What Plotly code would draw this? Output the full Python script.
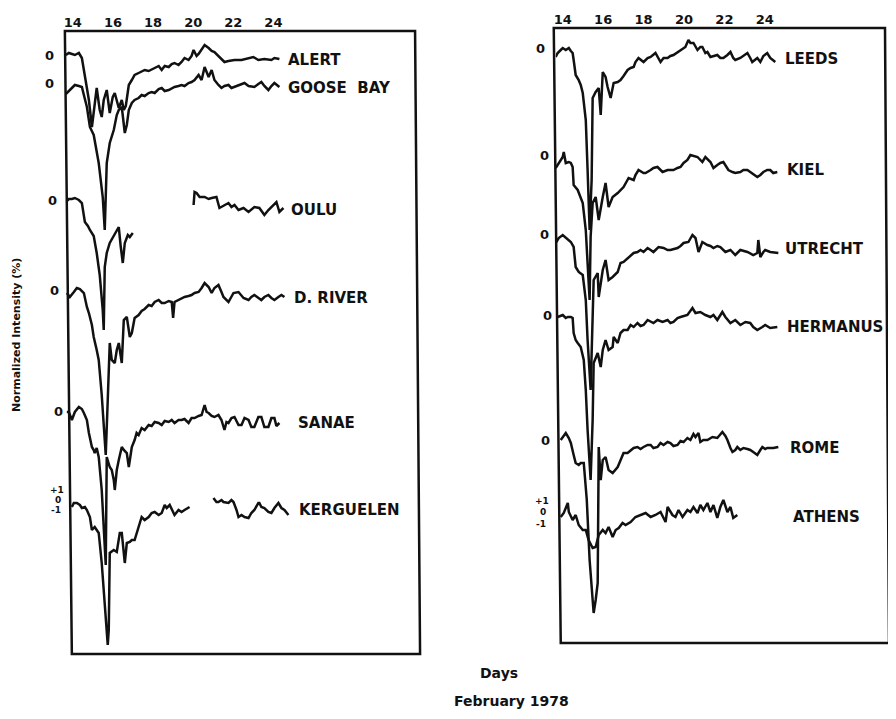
import plotly.graph_objects as go

# ---------------- data: (day of February 1978, normalized intensity %) ----------------
# left panel stations
alert = [(13.65, 0.0), (13.80, 0.2), (14.10, 0.0), (14.30, 0.2), (14.45, -0.3), (14.60, -2.2), (14.80, -4.5),
         (14.95, -7.2), (15.09, -4.5), (15.19, -3.3), (15.34, -5.5), (15.44, -6.2), (15.54, -4.5), (15.69, -3.5),
         (15.84, -5.8), (15.99, -4.2), (16.09, -3.8), (16.29, -5.3), (16.44, -4.5), (16.54, -5.5), (16.64, -5.1),
         (16.79, -3.0), (16.94, -2.5), (17.08, -2.0), (17.28, -1.8), (17.58, -1.5), (17.78, -1.6), (18.08, -1.3),
         (18.28, -1.1), (18.43, -1.5), (18.58, -1.1), (18.78, -1.2), (18.93, -0.9), (19.07, -0.8), (19.27, -1.0),
         (19.42, -0.7), (19.57, -0.3), (19.77, -0.5), (19.92, -0.1), (20.02, 0.5), (20.17, -0.1), (20.27, 0.1),
         (20.42, 0.5), (20.57, 1.0), (20.77, 0.7), (20.92, 0.4), (21.06, 0.3), (21.26, -0.1), (21.41, -0.5),
         (21.56, -0.7), (21.76, -0.6), (22.06, -0.5), (22.41, -0.5), (22.76, -0.3), (23.00, -0.2), (23.25, -0.5),
         (23.55, -0.4), (23.90, -0.5), (24.05, -0.3), (24.30, -0.4)]

goose_bay = [(13.65, -1.1), (13.85, -0.7), (14.10, -0.2), (14.30, -0.3), (14.45, -0.4), (14.70, -2.4), (14.85, -4.4),
             (15.04, -5.2), (15.29, -8.0), (15.49, -11.4), (15.59, -14.7), (15.69, -8.0), (15.84, -6.0), (16.04, -4.7),
             (16.19, -3.2), (16.29, -2.7), (16.44, -2.4), (16.59, -5.0), (16.69, -4.2), (16.79, -2.7), (16.94, -2.0),
             (17.08, -1.7), (17.28, -1.5), (17.43, -1.2), (17.58, -1.3), (17.78, -1.0), (17.93, -0.9), (18.08, -1.0),
             (18.28, -0.6), (18.43, -0.5), (18.58, -0.8), (18.78, -0.7), (18.93, -0.5), (19.07, -0.4), (19.27, -0.3),
             (19.42, -0.2), (19.57, -0.3), (19.77, 0.0), (19.92, 0.1), (20.07, 0.3), (20.27, 0.8), (20.42, 0.3),
             (20.57, 1.6), (20.77, 0.6), (20.92, 1.3), (21.06, 0.3), (21.26, -0.2), (21.41, -0.5), (21.56, -0.3),
             (21.76, -0.2), (21.91, -0.5), (22.06, -0.4), (22.26, -0.2), (22.56, 0.0), (22.76, -0.3), (23.05, -0.4),
             (23.25, -0.1), (23.40, 0.1), (23.55, -0.3), (23.75, -0.7), (23.90, -0.3), (24.05, 0.0), (24.30, -0.4)]

oulu = [(13.65, -0.2), (13.80, 0.1), (13.95, 0.1), (14.10, 0.2), (14.30, 0.0), (14.45, -0.3), (14.60, -2.2),
        (14.75, -2.6), (14.85, -3.0), (15.04, -3.6), (15.19, -5.3), (15.34, -7.5), (15.49, -11.0), (15.54, -13.0),
        (15.59, -6.7), (15.69, -5.3), (15.84, -4.3), (15.99, -3.8), (16.09, -3.5), (16.29, -2.7), (16.39, -4.7),
        (16.49, -6.3), (16.59, -4.3), (16.74, -3.5), (16.84, -3.7), (16.99, -3.3), (17.50, None),
        (20.02, -0.5), (20.07, 0.8), (20.17, 0.7), (20.32, 0.3), (20.57, 0.3), (20.77, 0.1), (20.92, 0.2),
        (21.16, 0.3), (21.31, -0.8), (21.56, -0.5), (21.76, -0.3), (21.91, -0.7), (22.06, -0.5), (22.26, -1.0),
        (22.51, -0.8), (22.76, -1.2), (23.05, -0.7), (23.30, -0.8), (23.55, -1.5), (23.75, -1.0), (23.90, -0.7),
        (24.15, -0.2), (24.30, -1.2), (24.50, -0.8)]

deep_river = [(13.70, -0.3), (13.85, -0.7), (14.05, -0.2), (14.20, 0.2), (14.35, 0.1), (14.55, -0.3), (14.70, -1.7),
              (14.80, -2.3), (14.95, -3.5), (15.04, -4.7), (15.19, -6.0), (15.29, -7.0), (15.44, -10.5),
              (15.54, -14.0), (15.64, -16.5), (15.74, -11.0), (15.84, -5.3), (15.94, -7.0), (16.09, -7.3),
              (16.19, -6.0), (16.29, -5.3), (16.44, -7.3), (16.54, -3.0), (16.69, -2.7), (16.84, -4.7), (16.94, -4.3),
              (17.08, -2.8), (17.28, -2.5), (17.43, -2.1), (17.58, -1.9), (17.78, -1.5), (17.93, -1.6), (18.08, -1.2),
              (18.28, -1.0), (18.43, -1.3), (18.58, -1.3), (18.78, -1.1), (18.93, -1.2), (19.00, -2.8), (19.07, -1.2),
              (19.27, -1.0), (19.42, -0.9), (19.57, -0.7), (19.77, -0.6), (19.92, -0.5), (20.07, -0.3), (20.27, -0.2),
              (20.42, 0.2), (20.57, 0.7), (20.77, 0.3), (20.92, -0.3), (21.06, 0.2), (21.26, 0.5), (21.41, -0.2),
              (21.51, -0.7), (21.76, -1.2), (21.91, -0.6), (22.01, -0.3), (22.26, -0.2), (22.41, -0.6), (22.51, -0.8),
              (22.76, -1.0), (22.90, -0.7), (23.05, -0.5), (23.25, -0.8), (23.40, -1.0), (23.55, -0.7), (23.75, -0.5),
              (23.90, -0.8), (24.05, -1.0), (24.25, -0.7), (24.40, -0.5), (24.55, -0.7)]

sanae = [(13.70, -0.1), (13.80, -0.1), (13.95, -0.9), (14.10, -0.1), (14.30, 0.4), (14.45, 0.2), (14.55, -0.2),
         (14.70, -0.9), (14.80, -2.2), (14.95, -3.6), (15.04, -3.9), (15.09, -4.2), (15.19, -3.7), (15.29, -4.6),
         (15.44, -7.9), (15.54, -11.9), (15.64, -15.4), (15.69, -4.6), (15.84, -5.6), (15.94, -5.9), (16.04, -6.9),
         (16.09, -7.9), (16.19, -5.9), (16.29, -4.9), (16.44, -3.6), (16.54, -3.9), (16.69, -4.2), (16.79, -5.6),
         (16.94, -3.6), (17.08, -2.9), (17.18, -2.2), (17.28, -2.4), (17.43, -1.7), (17.58, -1.9), (17.78, -1.4),
         (17.93, -1.5), (18.08, -1.1), (18.28, -1.2), (18.43, -1.4), (18.58, -1.0), (18.78, -1.1), (18.93, -0.9),
         (19.07, -1.2), (19.27, -0.9), (19.42, -0.9), (19.57, -0.8), (19.77, -1.2), (19.92, -0.7), (20.07, -0.7),
         (20.27, -0.5), (20.42, -0.4), (20.57, 0.6), (20.67, -0.1), (20.77, -0.2), (20.92, -0.5), (21.06, -0.6),
         (21.26, -0.4), (21.41, -0.9), (21.56, -1.9), (21.66, -1.1), (21.76, -1.2), (21.91, -0.7), (22.06, -0.6),
         (22.26, -1.4), (22.41, -1.4), (22.56, -0.7), (22.76, -0.9), (22.90, -1.6), (23.05, -1.6), (23.25, -0.6),
         (23.40, -0.6), (23.55, -1.6), (23.75, -1.6), (23.90, -0.7), (24.05, -0.7), (24.15, -1.5), (24.30, -1.2)]

kerguelen = [(13.95, -0.7), (14.05, -0.3), (14.20, -0.3), (14.35, -0.5), (14.45, -0.8), (14.60, -0.7), (14.70, -1.0),
             (14.85, -1.7), (14.95, -3.0), (15.09, -2.7), (15.19, -3.0), (15.29, -3.3), (15.44, -6.3), (15.54, -9.0),
             (15.59, -11.3), (15.69, -14.0), (15.74, -14.5), (15.79, -13.0), (15.84, -5.3), (16.04, -5.0),
             (16.19, -5.2), (16.34, -3.3), (16.44, -3.3), (16.59, -6.3), (16.69, -4.3), (16.84, -4.2), (16.94, -4.0),
             (17.08, -4.0), (17.28, -2.7), (17.43, -1.7), (17.58, -2.0), (17.78, -1.7), (17.93, -1.3), (18.08, -1.2),
             (18.28, -1.5), (18.43, -1.3), (18.58, -0.5), (18.68, -0.8), (18.83, -0.5), (18.93, -1.0), (19.07, -1.5),
             (19.27, -1.0), (19.42, -1.2), (19.57, -1.0), (19.72, -0.8), (19.82, -0.7), (20.50, None),
             (21.01, 0.2), (21.16, -0.2), (21.26, -0.2), (21.41, 0.0), (21.51, -0.2), (21.76, -0.3), (21.91, 0.0),
             (22.01, -0.2), (22.16, -1.0), (22.26, -1.7), (22.41, -1.5), (22.56, -1.7), (22.76, -1.8), (22.90, -1.3),
             (23.05, -1.0), (23.25, -0.3), (23.30, -0.3), (23.40, -0.7), (23.55, -0.8), (23.75, -1.2), (23.90, -1.3),
             (24.05, -0.8), (24.25, -0.3), (24.40, -0.8), (24.55, -1.0), (24.65, -1.3), (24.75, -1.5)]

# right panel stations
leeds = [(13.65, -0.9), (13.75, -0.5), (13.90, -0.2), (14.00, 0.0), (14.15, -0.2), (14.30, 0.0), (14.40, -0.3),
         (14.49, -0.5), (14.54, -1.2), (14.64, -2.7), (14.79, -3.2), (14.89, -3.7), (14.99, -4.5), (15.14, -7.2),
         (15.23, -12.2), (15.33, -18.2), (15.43, -13.2), (15.48, -5.0), (15.63, -4.4), (15.78, -4.0), (15.88, -6.7),
         (15.98, -2.4), (16.12, -2.9), (16.22, -3.9), (16.37, -5.0), (16.52, -3.5), (16.72, -3.4), (16.86, -3.2),
         (17.01, -2.8), (17.21, -2.2), (17.36, -2.0), (17.51, -1.9), (17.60, -1.4), (17.75, -1.0), (18.00, -1.4),
         (18.20, -1.0), (18.35, -0.9), (18.59, -0.5), (18.84, -1.4), (18.99, -1.0), (19.19, -1.0), (19.33, -0.8),
         (19.48, -0.7), (19.68, -0.4), (19.83, -0.2), (20.07, 0.1), (20.22, 0.8), (20.32, 0.5), (20.47, 0.5),
         (20.67, -0.2), (20.81, 0.1), (20.91, 0.1), (21.06, -0.5), (21.16, -0.4), (21.31, -0.9), (21.46, -0.8),
         (21.65, -0.7), (21.80, -1.0), (21.95, -1.0), (22.15, -0.7), (22.30, -0.4), (22.44, -1.0), (22.54, -1.2),
         (22.79, -1.0), (22.94, -0.8), (23.14, -0.5), (23.28, -1.0), (23.38, -1.4), (23.63, -1.0), (23.78, -1.4),
         (23.93, -0.8), (24.12, -0.5), (24.27, -1.0), (24.37, -1.2), (24.52, -1.4)]

kiel = [(13.65, -1.3), (13.80, -0.8), (14.00, -0.2), (14.05, 0.3), (14.15, -0.8), (14.30, -0.7), (14.40, -0.8),
        (14.49, -1.2), (14.54, -3.0), (14.74, -3.5), (14.89, -4.3), (14.99, -4.8), (15.14, -7.5), (15.23, -11.5),
        (15.33, -14.5), (15.38, -8.2), (15.48, -4.8), (15.63, -4.2), (15.78, -6.5), (15.98, -4.2), (16.12, -2.8),
        (16.27, -5.2), (16.47, -4.2), (16.72, -3.8), (16.86, -3.5), (17.01, -3.2), (17.26, -2.3), (17.51, -2.5),
        (17.60, -2.0), (17.75, -1.5), (18.00, -1.8), (18.10, -1.8), (18.35, -1.5), (18.49, -1.3), (18.69, -1.2),
        (18.94, -1.7), (19.19, -1.5), (19.48, -1.5), (19.68, -1.3), (19.83, -1.2), (19.98, -0.8), (20.17, -0.5),
        (20.32, 0.0), (20.47, -0.1), (20.67, -0.2), (20.91, -0.7), (21.06, -0.2), (21.31, -0.7), (21.46, -1.3),
        (21.65, -1.0), (21.80, -0.8), (21.95, -0.7), (22.20, -1.5), (22.40, -1.7), (22.54, -1.8), (22.79, -1.7),
        (22.94, -1.5), (23.14, -1.5), (23.38, -1.8), (23.63, -2.2), (23.78, -2.0), (23.93, -1.7), (24.12, -1.5),
        (24.27, -1.5), (24.42, -1.8), (24.62, -1.7)]

utrecht = [(13.65, -0.9), (13.80, -0.4), (14.00, -0.1), (14.15, -0.4), (14.25, -0.6), (14.40, -0.8), (14.54, -1.3),
           (14.64, -3.3), (14.79, -3.8), (14.99, -4.1), (15.14, -6.6), (15.23, -10.6), (15.38, -15.6), (15.48, -9.6),
           (15.53, -4.6), (15.73, -3.9), (15.78, -6.3), (15.98, -3.6), (16.12, -2.6), (16.27, -4.6), (16.47, -4.3),
           (16.72, -3.8), (16.86, -2.9), (17.01, -2.8), (17.21, -2.4), (17.36, -2.2), (17.51, -1.9), (17.70, -1.8),
           (17.85, -1.6), (18.00, -1.8), (18.20, -1.4), (18.35, -1.6), (18.49, -1.8), (18.74, -1.3), (18.99, -1.4),
           (19.19, -1.6), (19.33, -1.6), (19.68, -1.4), (19.83, -1.2), (19.98, -0.9), (20.22, -0.8), (20.42, -0.1),
           (20.57, -0.4), (20.72, -1.8), (20.91, -0.8), (21.16, -1.1), (21.31, -1.2), (21.46, -1.4), (21.65, -1.2),
           (21.80, -1.3), (22.05, -1.8), (22.30, -1.6), (22.54, -2.1), (22.79, -1.6), (22.94, -1.7), (23.14, -1.8),
           (23.43, -2.1), (23.63, -1.9), (23.68, -0.6), (23.78, -2.3), (23.93, -1.8), (24.02, -1.6), (24.27, -1.8),
           (24.67, -1.9)]

hermanus = [(13.75, -0.2), (13.90, -0.1), (14.00, 0.0), (14.15, -0.3), (14.25, -0.2), (14.40, -0.2), (14.49, -0.3),
            (14.54, -1.8), (14.64, -2.5), (14.74, -2.8), (14.89, -3.2), (15.04, -4.5), (15.14, -7.5), (15.23, -11.5),
            (15.38, -16.5), (15.48, -10.5), (15.53, -4.8), (15.73, -3.8), (15.88, -5.2), (15.98, -3.5), (16.12, -2.5),
            (16.27, -3.5), (16.47, -3.2), (16.52, -2.2), (16.72, -2.8), (16.86, -1.8), (17.01, -1.5), (17.21, -1.5),
            (17.36, -1.0), (17.51, -1.2), (17.70, -0.8), (17.85, -1.1), (18.00, -1.0), (18.20, -0.5), (18.35, -0.7),
            (18.49, -0.8), (18.69, -0.5), (18.94, -0.7), (19.19, -0.5), (19.33, -0.8), (19.48, -0.7), (19.68, -0.3),
            (19.83, -0.2), (19.98, -0.1), (20.17, 0.0), (20.42, 0.7), (20.57, 0.2), (20.81, 0.3), (21.06, 0.0),
            (21.31, -0.2), (21.46, 0.0), (21.65, -0.5), (21.90, 0.3), (22.05, -0.2), (22.30, -0.8), (22.54, -0.5),
            (22.79, -1.0), (23.04, -0.7), (23.28, -0.8), (23.43, -1.2), (23.63, -1.5), (23.88, -1.2), (24.02, -1.0),
            (24.27, -1.3), (24.62, -1.2)]

rome = [(13.90, 0.1), (14.05, 0.6), (14.15, 0.8), (14.30, 0.3), (14.40, -0.2), (14.54, -1.4), (14.64, -2.2),
        (14.79, -2.4), (14.89, -2.2), (15.04, -2.2), (15.19, -5.9), (15.33, -11.9), (15.48, -16.4), (15.53, -17.2),
        (15.63, -15.9), (15.73, -14.2), (15.78, -0.6), (15.88, -3.9), (15.98, -1.9), (16.12, -1.6), (16.27, -2.9),
        (16.47, -3.2), (16.72, -2.6), (16.86, -1.9), (17.01, -1.2), (17.21, -1.2), (17.36, -0.9), (17.51, -0.7),
        (17.70, -0.6), (17.85, -0.8), (18.00, -0.6), (18.20, -0.4), (18.35, -0.4), (18.49, -0.7), (18.69, -0.6),
        (18.84, -0.2), (18.99, -0.4), (19.19, -0.1), (19.33, -0.2), (19.48, -0.5), (19.68, -0.4), (19.83, 0.0),
        (19.98, -0.1), (20.17, 0.3), (20.32, 0.1), (20.47, 0.7), (20.57, 0.4), (20.72, 0.8), (20.81, -0.1),
        (20.96, 0.1), (21.16, 0.1), (21.31, 0.3), (21.41, 0.4), (21.65, 0.3), (21.80, 0.7), (21.90, 0.9),
        (22.05, 0.5), (22.15, 0.1), (22.30, -0.7), (22.40, -1.1), (22.54, -0.9), (22.64, -0.6), (22.79, -0.9),
        (22.94, -0.7), (23.14, -0.8), (23.28, -0.9), (23.43, -1.1), (23.63, -1.4), (23.78, -0.9), (23.88, -0.6),
        (24.02, -0.8), (24.12, -0.7), (24.27, -0.7), (24.42, -0.7), (24.67, -0.6)]

athens = [(13.90, -0.5), (14.05, -0.1), (14.25, 0.9), (14.30, 0.0), (14.49, -0.8), (14.64, -0.3), (14.79, -1.3),
          (14.99, -1.8), (15.14, -1.8), (15.28, -2.8), (15.48, -3.6), (15.63, -3.5), (15.78, -2.3), (15.98, -1.8),
          (16.12, -2.1), (16.27, -1.5), (16.47, -2.5), (16.62, -1.8), (16.77, -1.6), (16.96, -1.1), (17.11, -1.3),
          (17.36, -1.0), (17.60, -0.5), (17.85, -0.3), (18.10, -0.1), (18.35, -0.5), (18.59, -0.3), (18.84, 0.0),
          (19.09, -1.0), (19.19, 0.5), (19.43, -0.3), (19.58, -0.5), (19.73, 0.2), (19.93, -0.5), (20.17, 0.2),
          (20.32, 0.0), (20.47, 0.5), (20.67, -0.1), (20.81, 0.7), (20.96, 0.2), (21.16, 0.9), (21.31, 0.0),
          (21.46, 0.7), (21.65, -0.6), (21.80, 0.5), (21.95, 1.2), (22.15, 0.0), (22.30, 0.5), (22.44, -0.6),
          (22.64, -0.3)]

day_ticks = [14, 16, 18, 20, 22, 24]
left_names = ["ALERT", "GOOSE  BAY", "OULU", "D. RIVER", "SANAE", "KERGUELEN"]
right_names = ["LEEDS", "KIEL", "UTRECHT", "HERMANUS", "ROME", "ATHENS"]

# ---------------- layout helpers ----------------
# the page body has an 8px margin, so the figure is drawn 8px in from the window edge
PAGE_W, PAGE_H, BODY = 896, 719, 8
W, H = PAGE_W - 2 * BODY, PAGE_H - 2 * BODY
def pxx(x): return (x - BODY) / W
def pxy(y): return 1 - (y - BODY) / H

left_series = [alert, goose_bay, oulu, deep_river, sanae, kerguelen]
right_series = [leeds, kiel, utrecht, hermanus, rome, athens]
# vertical stacking offsets (in % units) of each station's zero line
left_offsets = [-2.4, -5.2, -16.9, -25.9, -38.0, -46.9]
right_offsets = [-2.0, -12.7, -20.6, -28.7, -41.3, -48.4]

fig = go.Figure()
LINE = dict(color="#111111", width=2.5)

for series, off in zip(left_series, left_offsets):
    xs = [d for d, v in series]
    ys = [None if v is None else v + off for d, v in series]
    fig.add_trace(go.Scatter(x=xs, y=ys, mode="lines", line=LINE, connectgaps=False,
                             xaxis="x", yaxis="y", showlegend=False, hoverinfo="skip"))
for series, off in zip(right_series, right_offsets):
    xs = [d for d, v in series]
    ys = [None if v is None else v + off for d, v in series]
    fig.add_trace(go.Scatter(x=xs, y=ys, mode="lines", line=LINE, connectgaps=False,
                             xaxis="x2", yaxis="y2", showlegend=False, hoverinfo="skip"))

tick_font = dict(family="DejaVu Sans", size=13, color="#111111")
ax_common = dict(side="top", tickvals=day_ticks, ticktext=[f"<b>{t}</b>" for t in day_ticks],
                 tickfont=tick_font, showgrid=False, zeroline=False, showline=False, ticks="")
fig.update_layout(
    width=W, height=H, margin=dict(l=0, r=0, t=0, b=0),
    paper_bgcolor="white", plot_bgcolor="rgba(0,0,0,0)",
    xaxis=dict(domain=[pxx(64), pxx(416)], range=[13.652, 31.164], anchor="y", **ax_common),
    yaxis=dict(domain=[pxy(654), pxy(31)], range=[-62.3, 0], visible=False, anchor="x"),
    xaxis2=dict(domain=[pxx(555), pxx(886)], range=[13.654, 30.0], anchor="y2", **ax_common),
    yaxis2=dict(domain=[pxy(643), pxy(28)], range=[-61.5, 0], visible=False, anchor="x2"),
)

# frames (slightly skewed like the scanned original)
def frame(pts):
    path = "M " + " L ".join(f"{pxx(x):.5f},{pxy(y):.5f}" for x, y in pts) + " Z"
    return dict(type="path", path=path, xref="paper", yref="paper",
                line=dict(color="#111111", width=2.5), fillcolor="rgba(0,0,0,0)")

fig.add_shape(**frame([(63, 31), (414, 31), (419, 654), (70, 654)]))
fig.add_shape(**frame([(553, 28), (885, 28), (889, 643), (560, 643)]))

ann = []
def text(x, y, s, size=15, xanchor="left", angle=0, family="DejaVu Sans"):
    ann.append(dict(x=pxx(x), y=pxy(y), xref="paper", yref="paper", text=f"<b>{s}</b>",
                    showarrow=False, xanchor=xanchor, yanchor="middle", textangle=angle, borderpad=0,
                    font=dict(family=family, size=size, color="#111111")))

# station names
for name, (x, y) in zip(left_names, [(286, 60), (286, 88), (289, 210), (292, 298), (296, 423), (297, 510)]):
    text(x, y, name)
for name, (x, y) in zip(right_names, [(784, 59), (786, 170), (784, 249), (786, 327), (789, 448), (792, 517)]):
    text(x, y, name)

# zero labels
for x, y in [(48, 55), (48, 83), (51, 200), (53, 290), (57, 411)]:
    text(x, y, "0", size=13, xanchor="center")
for x, y in [(540, 48), (544, 155), (544, 234), (547, 315), (545, 441)]:
    text(x, y, "0", size=13, xanchor="center")
# +1 / 0 / -1 scale marks
for x, y, s in [(55, 490, "+1"), (56, 500, "0"), (54, 510, "-1")]:
    text(x, y, s, size=9, xanchor="center")
for x, y, s in [(541, 501, "+1"), (542, 512, "0"), (540, 524, "-1")]:
    text(x, y, s, size=9, xanchor="center")

# axis titles
text(14, 335, "Normalized Intensity (%)", size=11, xanchor="center", angle=-90)
text(498, 673, "Days", size=14, xanchor="center")
text(511, 701, "February 1978", size=14, xanchor="center")

fig.update_layout(annotations=ann)
fig.write_html("out.html")
